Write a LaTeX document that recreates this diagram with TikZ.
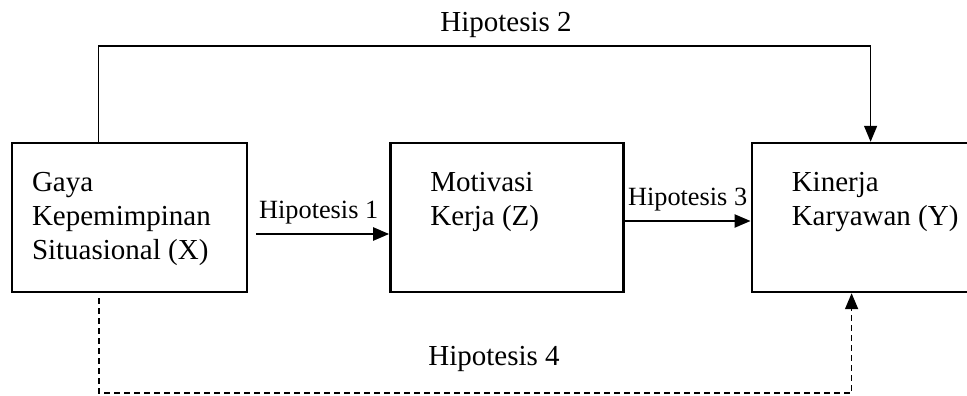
\documentclass[tikz,border=0pt]{standalone}
\usepackage{fontspec}
\setmainfont{Liberation Serif}
\usetikzlibrary{positioning, calc, arrows.meta}

\newcommand{\boxlines}[2]{\parbox[c][91pt][t]{#1}{#2}}

\begin{document}
\begin{tikzpicture}
    [x=1pt, y=-1pt,
    post/.style={-{Triangle[length=16pt,width=13pt]}, draw, line width=2.2pt},
    toppost/.style={post, line width=1.3pt},
    dashpost/.style={post, line width=1.7pt, dash pattern=on 6pt off 4pt},
    ob/.style={rectangle, draw, line width=2.4pt, inner ysep=29pt, font=\fontsize{29}{34}\selectfont},
    lbl/.style={inner sep=0pt, font=\fontsize{29}{34}\selectfont},
    smalllbl/.style={lbl, font=\fontsize{26.3}{30}\selectfont}]
    \useasboundingbox (0,0) rectangle (967,396);
    \node [ob, inner xsep=20pt] (X) at (129.5,217.5) {\boxlines{195pt}{Gaya\\Kepemimpinan\\Situasional (X)}};
    \node [ob, inner xsep=40pt, right=141pt of X] (Z) {\boxlines{153pt}{Motivasi\\Kerja (Z)}};
    \node [ob, inner xsep=40pt, right=126pt of Z] (Y) {\boxlines{180pt}{Kinerja\\Karyawan (Y)}};
    \coordinate (toprow) at (0,46);
    \coordinate (botrow) at (0,393);
    \coordinate (xtop) at ([xshift=88pt]X.north west);
    \coordinate (ytop) at ([xshift=120pt]Y.north west);
    \coordinate (xbot) at ([xshift=88pt,yshift=-5pt]X.south west);
    \coordinate (ybot) at ([xshift=101pt]Y.south west);
    \draw[post, shorten <=8pt] ([yshift=-16.5pt]X.east) -- ([yshift=-16.5pt]Z.west) node [smalllbl, midway, anchor=base, yshift=16pt] (h1) {Hipotesis 1};
    \draw[post] ([yshift=-3.5pt]Z.east) -- ([yshift=-3.5pt]Y.west) node [smalllbl, midway, anchor=base, yshift=16pt] (h3) {Hipotesis 3};
    \draw[toppost] (xtop) -- (xtop |- toprow) -| (ytop);
    \node [lbl, anchor=base] (h2) at (506,32) {Hipotesis 2};
    \draw[dashpost] (xbot) -- (xbot |- botrow) -| (ybot);
    \node [lbl, anchor=base] (h4) at (494,365) {Hipotesis 4};
\end{tikzpicture}
\end{document}
